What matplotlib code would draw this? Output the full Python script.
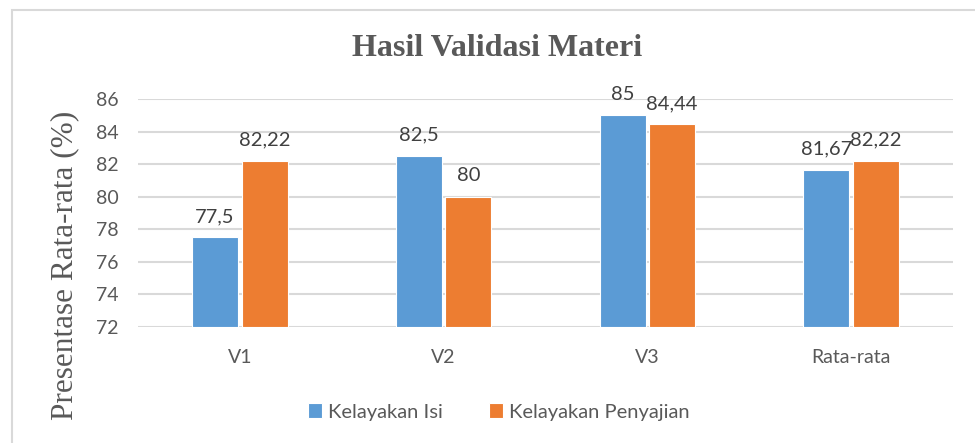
import matplotlib.pyplot as plt
import numpy as np
from matplotlib.patches import Rectangle

categories = ['V1', 'V2', 'V3', 'Rata-rata']
kelayakan_isi = [77.5, 82.5, 85, 81.67]
kelayakan_penyajian = [82.22, 80, 84.44, 82.22]
isi_labels = ['77,5', '82,5', '85', '81,67']
penyajian_labels = ['82,22', '80', '84,44', '82,22']
yticks = [72, 74, 76, 78, 80, 82, 84, 86]

blue = '#5B9BD5'
orange = '#ED7D31'
sans = ['Lato', 'DejaVu Sans']
serif = ['Liberation Serif', 'DejaVu Serif']

fig = plt.figure(figsize=(9.75, 4.43), dpi=100)
ax = fig.add_axes([0.1415, 0.2619, 0.8359, 0.5146])

# outer chart border
fig.patches.append(Rectangle((12 / 975, -0.1), 1.1, 1 - 10 / 443 + 0.1, transform=fig.transFigure,
                             fill=False, edgecolor='#d9d9d9', linewidth=1.5))

x = np.arange(len(categories))
w = 0.225
gap = 0.009
b1 = ax.bar(x - w / 2 - gap, np.array(kelayakan_isi) - 72, w, bottom=72, color=blue,
            edgecolor='white', linewidth=0.8, label='Kelayakan Isi', zorder=3)
b2 = ax.bar(x + w / 2 + gap, np.array(kelayakan_penyajian) - 72, w, bottom=72, color=orange,
            edgecolor='white', linewidth=0.8, label='Kelayakan Penyajian', zorder=3)

for bars, vals, labs in [(b1, kelayakan_isi, isi_labels), (b2, kelayakan_penyajian, penyajian_labels)]:
    for rect, v, lab in zip(bars, vals, labs):
        ax.annotate(lab, (rect.get_x() + rect.get_width() / 2, v), xytext=(0, 11),
                    textcoords='offset points', ha='center', va='baseline',
                    fontsize=14.5, color='#404040', family=sans)

ax.set_xlim(-0.5, len(categories) - 0.5)
ax.set_ylim(72, 86)
ax.set_yticks(yticks)
ax.set_yticklabels([str(t) for t in yticks], family=sans, fontsize=14, color='#595959')
ax.set_xticks(x)
ax.set_xticklabels(categories, family=sans, fontsize=14, color='#595959')
ax.tick_params(axis='both', length=0)
ax.tick_params(axis='y', pad=14)
ax.tick_params(axis='x', pad=16)
ax.grid(axis='y', color='#d9d9d9', linewidth=1.5, zorder=0)
for s in ax.spines.values():
    s.set_visible(False)

ax.set_ylabel('Presentase Rata-rata (%)', family=serif, fontsize=22.5, color='#595959')
ax.yaxis.set_label_coords(-0.072, 0.27)

fig.text(497 / 975, 1 - 49 / 443, 'Hasil Validasi Materi', ha='center', va='center',
         family=serif, fontsize=23, fontweight='bold', color='#595959')

fig.legend(handles=[b1, b2], loc='center', bbox_to_anchor=(499 / 975, 1 - 412 / 443), ncol=2,
           frameon=False, prop={'family': sans, 'size': 14.5}, labelcolor='#595959',
           handlelength=0.7, handleheight=0.7, handletextpad=0.3, columnspacing=2.3)

fig.savefig('out.png', dpi=100)
